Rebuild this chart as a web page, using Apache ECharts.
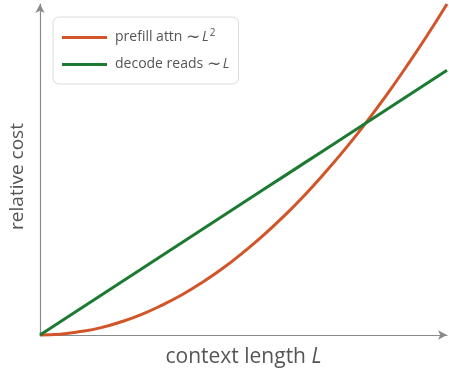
<!DOCTYPE html>
<html>
<head>
<meta charset="utf-8">
<script src="https://cdn.jsdelivr.net/npm/echarts@6/dist/echarts.min.js"></script>
<style>
  html, body { margin: 0; padding: 0; background: #fff; }
  #chart { width: 449px; height: 373px; }
</style>
</head>
<body>
<div id="chart"></div>
<script>
// context length samples
const contextLength = [0, 0.5, 1, 1.5, 2, 2.5, 3, 3.5, 4, 4.5, 5, 5.5, 6, 6.5, 7, 7.5, 8, 8.5, 9, 9.5, 10];
// prefill attention cost grows quadratically
const prefillCost = [0, 0.03, 0.13, 0.28, 0.5, 0.78, 1.13, 1.53, 2, 2.53, 3.13, 3.78, 4.5, 5.28, 6.13, 7.03, 8, 9.03, 10.13, 11.28, 12.5];
// decode KV reads grow linearly
const decodeCost = [0, 0.5, 1, 1.5, 2, 2.5, 3, 3.5, 4, 4.5, 5, 5.5, 6, 6.5, 7, 7.5, 8, 8.5, 9, 9.5, 10];

const seriesNames = ['prefill attn', 'decode reads'];
const colors = ['#d2552a', '#1c7a32'];

const FONT = '"Open Sans", "Noto Sans", sans-serif';
const TEXT = '#555';
const AXIS = '#8a8a8a';

const pair = (xs, ys) => xs.map((x, i) => [x, ys[i]]);

const chart = echarts.init(document.getElementById('chart'), null, { renderer: 'canvas' });

const legendRich = {
  t: { color: TEXT, fontSize: 14, fontFamily: FONT, lineHeight: 18 },
  w: { color: TEXT, fontSize: 17, fontFamily: FONT, lineHeight: 18, padding: [0, 2, 0, 0] },
  i: { color: TEXT, fontSize: 14, fontFamily: FONT, fontStyle: 'italic', lineHeight: 18 },
  s: { color: TEXT, fontSize: 10, fontFamily: FONT, lineHeight: 18, padding: [0, 0, 9, 1] }
};

chart.setOption({
  animation: false,
  backgroundColor: '#fff',
  textStyle: { fontFamily: FONT },
  grid: { left: 40, right: 2, top: 4, bottom: 36 },
  legend: {
    orient: 'vertical',
    left: 53,
    top: 17,
    padding: [11, 9, 11, 9],
    itemGap: 9,
    itemWidth: 45,
    itemHeight: 3,
    icon: 'rect',
    backgroundColor: '#fff',
    borderColor: '#d9dcdc',
    borderWidth: 1,
    borderRadius: 6,
    data: seriesNames,
    formatter: name => name === seriesNames[0]
      ? '{t|prefill attn }{w|\u223C}{i|L}{s|2}'
      : '{t|decode reads }{w|\u223C}{i|L}',
    textStyle: {
      color: TEXT,
      fontFamily: FONT,
      fontSize: 14,
      padding: [0, 0, 0, 3],
      rich: legendRich
    }
  },
  xAxis: {
    type: 'value',
    min: 0,
    max: 10,
    name: 'context length {i|L}',
    nameLocation: 'middle',
    nameGap: 12,
    nameTextStyle: {
      color: TEXT, fontSize: 21, fontFamily: FONT, verticalAlign: 'top',
      rich: { i: { color: TEXT, fontSize: 21, fontFamily: FONT, fontStyle: 'italic' } }
    },
    axisLine: {
      show: true,
      onZero: false,
      symbol: ['none', 'arrow'],
      symbolSize: [7, 9],
      lineStyle: { color: AXIS, width: 1.2 }
    },
    axisTick: { show: false },
    axisLabel: { show: false },
    splitLine: { show: false }
  },
  yAxis: {
    type: 'value',
    min: 0,
    max: 12.5,
    name: 'relative cost',
    nameLocation: 'middle',
    nameGap: 13,
    nameTextStyle: { color: TEXT, fontSize: 19, fontFamily: FONT, padding: [0, 14, 0, 0] },
    axisLine: {
      show: true,
      onZero: false,
      symbol: ['none', 'arrow'],
      symbolSize: [7, 9],
      lineStyle: { color: AXIS, width: 1.2 }
    },
    axisTick: { show: false },
    axisLabel: { show: false },
    splitLine: { show: false }
  },
  series: [
    {
      name: seriesNames[0],
      type: 'line',
      data: pair(contextLength, prefillCost),
      smooth: true,
      showSymbol: false,
      clip: false,
      color: colors[0],
      lineStyle: { color: colors[0], width: 3 },
      z: 3
    },
    {
      name: seriesNames[1],
      type: 'line',
      data: pair(contextLength, decodeCost),
      showSymbol: false,
      clip: false,
      color: colors[1],
      lineStyle: { color: colors[1], width: 3 },
      z: 4
    }
  ]
});
</script>
</body>
</html>
